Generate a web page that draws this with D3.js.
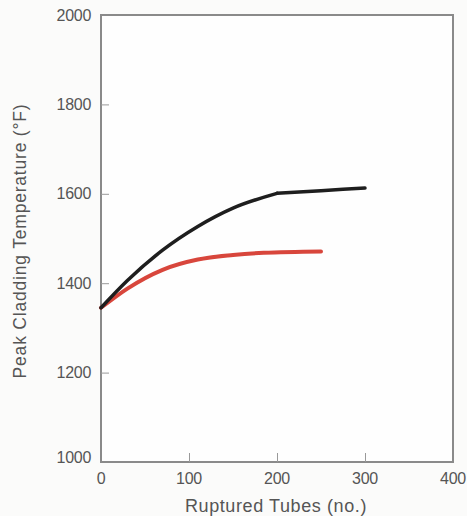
<html>
<head>
<script src="https://d3js.org/d3.v7.min.js"></script>
<style>
  body { margin: 0; background: #fbfbfa; }
  text { font-family: "Liberation Sans", Arial, sans-serif; fill: #555; }
</style>
</head>
<body>
<svg id="chart" width="467" height="516"></svg>
<script>
// ruptured tubes (no.) vs peak cladding temperature (F)
var blackX = [0, 30, 70, 110, 150, 200, 250, 300];
var blackY = [1345, 1406, 1474, 1527, 1568, 1601, 1607, 1613];
var blackKnee = 200;
var redX = [0, 30, 70, 110, 150, 185, 250];
var redY = [1345, 1388, 1430, 1453, 1463, 1468, 1471];
var xTicks = [0, 100, 200, 300, 400];
var yTicks = [1000, 1200, 1400, 1600, 1800, 2000];

var svg = d3.select("#chart");
var mLeft = 101, mRight = 453, mTop = 15, mBottom = 462;

var x = d3.scaleLinear().domain([0, 400]).range([mLeft, mRight]);
var y = d3.scaleLinear().domain([1000, 2000]).range([mBottom, mTop]);

// frame
svg.append("rect")
  .attr("x", mLeft).attr("y", mTop)
  .attr("width", mRight - mLeft).attr("height", mBottom - mTop)
  .attr("fill", "#fefefe")
  .attr("stroke", "#8a8a8a")
  .attr("stroke-width", 2);

// ticks, pointing inward
svg.append("g")
  .attr("transform", "translate(" + mLeft + ",0)")
  .call(d3.axisRight(y).tickValues(yTicks.slice(1, -1)).tickSize(8).tickFormat(""))
  .call(function(g) { g.select(".domain").remove(); g.selectAll("line").attr("stroke", "#999"); });

svg.append("g")
  .attr("transform", "translate(0," + mBottom + ")")
  .call(d3.axisTop(x).tickValues(xTicks.slice(1, -1)).tickSize(9).tickFormat(""))
  .call(function(g) { g.select(".domain").remove(); g.selectAll("line").attr("stroke", "#999"); });

// tick labels
svg.selectAll(".ylab").data(yTicks).enter().append("text")
  .attr("x", 91)
  .attr("y", function(d) { return d == 1000 ? y(d) - 5 : y(d); })
  .attr("dy", "0.35em")
  .attr("text-anchor", "end")
  .attr("font-size", 16)
  .style("letter-spacing", "-0.3px")
  .text(function(d) { return d; });

svg.selectAll(".xlab").data(xTicks).enter().append("text")
  .attr("x", function(d) { return x(d); })
  .attr("y", 484)
  .attr("text-anchor", "middle")
  .attr("font-size", 16)
  .style("letter-spacing", "-0.3px")
  .text(function(d) { return d; });

svg.append("text")
  .attr("x", 276).attr("y", 512)
  .attr("text-anchor", "middle")
  .attr("font-size", 18)
  .style("letter-spacing", "0.6px")
  .text("Ruptured Tubes (no.)");

svg.append("text")
  .attr("transform", "translate(26," + 241 + ") rotate(-90)")
  .attr("text-anchor", "middle")
  .attr("font-size", 17.5)
  .style("letter-spacing", "0.8px")
  .text("Peak Cladding Temperature (°F)");

var smooth = d3.line()
  .x(function(d) { return x(d[0]); })
  .y(function(d) { return y(d[1]); })
  .curve(d3.curveMonotoneX);

svg.append("path")
  .datum(d3.zip(redX, redY))
  .attr("d", smooth)
  .attr("fill", "none")
  .attr("stroke", "#d8463c")
  .attr("stroke-width", 4)
  .attr("stroke-linecap", "round");

// black curve: smooth rise up to the knee at 200 tubes, then nearly flat
var black = d3.zip(blackX, blackY);
var rise = black.filter(function(d) { return d[0] <= blackKnee; });
var flat = black.filter(function(d) { return d[0] >= blackKnee; });

[rise, flat].forEach(function(seg) {
  svg.append("path")
    .datum(seg)
    .attr("d", smooth)
    .attr("fill", "none")
    .attr("stroke", "#1e1e1e")
    .attr("stroke-width", 3.5)
    .attr("stroke-linecap", "round");
});
</script>
</body>
</html>
